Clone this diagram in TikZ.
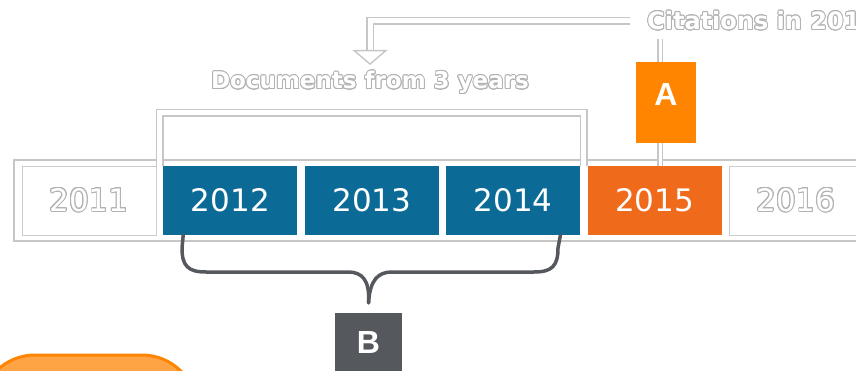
\documentclass[tikz,border=0pt]{standalone}
\usepackage{fontspec}
\setmainfont{DejaVu Sans}
\newfontfamily\tagfont{Liberation Sans}
\usepackage{xcolor}
\usepackage{contour}
\usetikzlibrary{arrows.meta,positioning}

\definecolor{windowblue}{HTML}{0B6A96}
\definecolor{yearorange}{HTML}{F06A1C}
\definecolor{tagorange}{HTML}{FF8500}
\definecolor{taggray}{HTML}{55585D}
\definecolor{padorange}{HTML}{FFA445}
\contourlength{0.9pt}

\begin{document}
\begin{tikzpicture}[x=1pt, y=-1pt,
    frame/.style={draw=gray!45, line width=1.2pt},
    hollow/.style={draw=gray!45, line width=1.4pt, double=white, double distance=5pt},
    hollowthin/.style={hollow, double distance=3pt},
    brace/.style={draw=taggray, line width=3.5pt, line cap=round, line join=round},
    year/.style={minimum width=134pt, minimum height=69pt, inner sep=0pt,
      font=\fontsize{31}{31}\selectfont},
    past/.style={year, draw=gray!40, fill=white, text=white},
    window/.style={year, fill=windowblue, text=white},
    current/.style={year, fill=yearorange, text=white},
    caption/.style={inner sep=0pt, text=white, font=\bfseries\fontsize{23}{23}\selectfont},
    tag/.style={inner sep=0pt, text=white, font=\tagfont\bfseries\fontsize{32}{32}\selectfont}]

  \useasboundingbox (0,0) rectangle (856,371);
  \clip (0,0) rectangle (856,371);

  % pad at the lower left
  \draw[draw=tagorange, fill=padorange, line width=3pt, rounded corners=55pt]
    (-20,355) rectangle (197,480);

  \draw[frame] (14,160) rectangle (870,241);

  % year cells
  \node[past] (c2011) at (89,200.5) {\contour{gray!60}{2011}};
  \node[window, right=7pt of c2011] (c2012) {2012};
  \node[window, right=7pt of c2012] (c2013) {2013};
  \node[window, right=7pt of c2013] (c2014) {2014};
  \node[current, right=7pt of c2014] (c2015) {2015};
  \node[past, right=7pt of c2015] (c2016) {\contour{gray!60}{2016}};

  % captions
  \node[caption] (docs) at (370,83) {\contour{gray!60}{Documents from 3 years}};
  \node[caption, anchor=west, font=\bfseries\fontsize{24}{24}\selectfont] (cit) at (647,21)
    {\contour{gray!60}{Citations in 2015}};

  \draw[hollow] ([xshift=-3.5pt]c2012.north west) -- ++(0,-53) -| ([xshift=3.5pt]c2014.north east);
  \draw[hollow, shorten <=17pt, shorten >=4pt, -{Triangle[open, width=35pt, length=15pt]}]
    (cit.west) -| (docs.south |- 0,69);
  \draw[hollowthin, shorten <=8pt] ([xshift=13pt]cit.south west) -- ([xshift=13pt]cit.south west |- c2015.north);

  % labels
  \node[tag, fill=tagorange, minimum width=60pt, minimum height=81pt, text depth=16pt] (lblA)
    at (666,102.5) {A};
  \node[tag, fill=taggray, minimum width=67pt, minimum height=70pt, text depth=12pt] (lblB)
    at (368.5,348) {B};

  \coordinate (tip) at ([yshift=10pt]lblB.north);
  \draw[brace] ([xshift=20pt]c2012.south west) -- (182,248)
    .. controls (182,266) and (188,272) .. (206,272) -- (348,272)
    .. controls (362,272) and (370,280) .. (tip);
  \draw[brace] ([xshift=-20pt]c2014.south east) -- (558,248)
    .. controls (558,266) and (552,272) .. (534,272) -- (392,272)
    .. controls (378,272) and (370,280) .. (tip);
\end{tikzpicture}
\end{document}
